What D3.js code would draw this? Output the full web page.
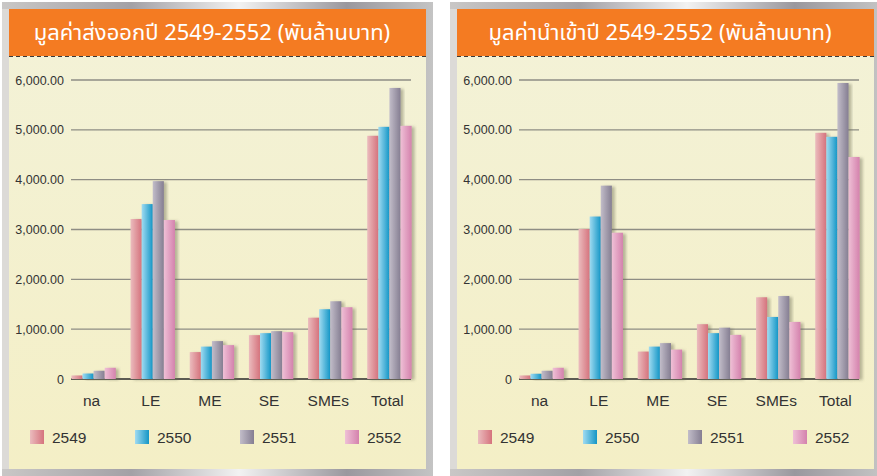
<!DOCTYPE html>
<html>
<head>
<meta charset="utf-8">
<script src="https://cdn.jsdelivr.net/npm/d3@7"></script>
<style>
  body { margin: 0; background: #fff; }
  svg { display: block; }
</style>
</head>
<body>
<svg id="chart"></svg>
<script>
const width = 877, height = 476;

// data (thousand million baht)
const categories = ["na", "LE", "ME", "SE", "SMEs", "Total"];
const years = ["2549", "2550", "2551", "2552"];

const export2549 = [70, 3210, 540, 880, 1230, 4880];
const export2550 = [110, 3510, 650, 920, 1400, 5060];
const export2551 = [165, 3970, 760, 960, 1560, 5840];
const export2552 = [225, 3190, 680, 940, 1440, 5080];

const import2549 = [70, 3010, 550, 1100, 1640, 4940];
const import2550 = [105, 3260, 650, 920, 1245, 4860];
const import2551 = [165, 3880, 720, 1030, 1665, 5940];
const import2552 = [225, 2935, 590, 885, 1145, 4455];

const yTicks = [0, 1000, 2000, 3000, 4000, 5000, 6000];

const exportTitle = "มูลค่าส่งออกปี 2549-2552 (พันล้านบาท)";
const importTitle = "มูลค่านำเข้าปี 2549-2552 (พันล้านบาท)";

const yearColors = {
    "2549": ["#ebbcbe", "#d5737d"],
    "2550": ["#a0dbf1", "#1496c6"],
    "2551": ["#c2bdc9", "#857e92"],
    "2552": ["#efc0d6", "#d482ad"]
};

const svg = d3.select("#chart")
    .attr("width", width)
    .attr("height", height);

const defs = svg.append("defs");

years.forEach(y => {
    const g = defs.append("linearGradient")
        .attr("id", "grad" + y)
        .attr("x1", "0%").attr("x2", "100%")
        .attr("y1", "0%").attr("y2", "0%");
    g.append("stop").attr("offset", "0%").attr("stop-color", yearColors[y][0]);
    g.append("stop").attr("offset", "100%").attr("stop-color", yearColors[y][1]);
});

// metallic frame
const frameGrad = defs.append("linearGradient")
    .attr("id", "frameGrad")
    .attr("x1", "0%").attr("x2", "100%");
[["0%", "#c9c7c6"], ["30%", "#a3a1a6"], ["55%", "#f2f2f2"], ["80%", "#9a989e"], ["100%", "#c4c4c4"]]
    .forEach(s => frameGrad.append("stop").attr("offset", s[0]).attr("stop-color", s[1]));

const creamGrad = defs.append("linearGradient")
    .attr("id", "creamGrad")
    .attr("x1", "0%").attr("x2", "0%").attr("y1", "0%").attr("y2", "100%");
creamGrad.append("stop").attr("offset", "0%").attr("stop-color", "#f3f2d8");
creamGrad.append("stop").attr("offset", "100%").attr("stop-color", "#f4efc6");

const shadow = defs.append("filter")
    .attr("id", "barShadow")
    .attr("x", "-20%").attr("y", "-10%")
    .attr("width", "160%").attr("height", "130%");
shadow.append("feDropShadow")
    .attr("dx", 3).attr("dy", 1)
    .attr("stdDeviation", 1.8)
    .attr("flood-color", "#6b6a55")
    .attr("flood-opacity", 0.45);

const labelFont = "'Liberation Sans', Arial, sans-serif";

function drawPanel(offsetX, title, series) {
    const g = svg.append("g").attr("transform", `translate(${offsetX},0)`);

    // frame and panel
    g.append("rect")
        .attr("x", 2).attr("y", 2)
        .attr("width", 431).attr("height", 474)
        .attr("fill", "url(#frameGrad)");
    g.append("rect")
        .attr("x", 2).attr("y", 9)
        .attr("width", 8).attr("height", 460)
        .attr("fill", "#dcdad7");
    g.append("rect")
        .attr("x", 9).attr("y", 9)
        .attr("width", 417).attr("height", 460)
        .attr("fill", "url(#creamGrad)");
    g.append("rect")
        .attr("x", 9).attr("y", 9)
        .attr("width", 417).attr("height", 47)
        .attr("fill", "#f47b22");
    g.append("line")
        .attr("x1", 9).attr("x2", 426)
        .attr("y1", 56.5).attr("y2", 56.5)
        .attr("stroke", "#3a3a3a")
        .attr("stroke-width", 1.2)
        .attr("stroke-dasharray", "4,3");

    g.append("text")
        .attr("x", 212).attr("y", 40)
        .attr("text-anchor", "middle")
        .attr("fill", "#fff")
        .style("font-family", "'Noto Sans Thai', 'Noto Sans', Tahoma, sans-serif")
        .style("font-size", "22px")
        .style("font-weight", "normal")
        .text(title);

    const x0 = d3.scaleBand()
        .domain(categories)
        .range([64, 419])
        .paddingInner(0.25)
        .paddingOuter(0.125);

    const x1 = d3.scaleBand()
        .domain(years)
        .range([0, x0.bandwidth()]);

    const y = d3.scaleLinear()
        .domain([0, 6000])
        .range([379, 80]);

    // grid lines
    g.append("g")
        .selectAll("line")
        .data(yTicks)
        .join("line")
        .attr("x1", 71).attr("x2", 411)
        .attr("y1", d => y(d)).attr("y2", d => y(d))
        .attr("stroke", d => d === 0 ? "#2a2a2a" : "#8e8d84")
        .attr("stroke-width", 1.3);

    g.append("g")
        .selectAll("text")
        .data(yTicks)
        .join("text")
        .attr("x", 64)
        .attr("y", d => y(d) + 4.5)
        .attr("text-anchor", "end")
        .attr("fill", "#333")
        .style("font-family", labelFont)
        .style("font-size", "12.5px")
        .text(d => d === 0 ? "0" : d3.format(",.2f")(d));

    // bars
    const groups = g.append("g")
        .selectAll("g")
        .data(categories)
        .join("g")
        .attr("transform", d => `translate(${x0(d)},0)`);

    groups.selectAll("rect")
        .data((c, i) => years.map((yr, j) => ({ year: yr, value: series[j][i] })))
        .join("rect")
        .attr("x", d => x1(d.year))
        .attr("y", d => y(d.value))
        .attr("width", x1.bandwidth())
        .attr("height", d => y(0) - y(d.value))
        .attr("fill", d => "url(#grad" + d.year + ")")
        .attr("filter", "url(#barShadow)");

    // category labels
    g.append("g")
        .selectAll("text")
        .data(categories)
        .join("text")
        .attr("x", d => x0(d) + x0.bandwidth() / 2 - 2)
        .attr("y", 406)
        .attr("text-anchor", "middle")
        .attr("fill", "#333")
        .style("font-family", labelFont)
        .style("font-size", "15.5px")
        .text(d => d);

    // legend
    const legend = g.append("g")
        .selectAll("g")
        .data(years)
        .join("g")
        .attr("transform", (d, i) => `translate(${30 + i * 105},430)`);

    legend.append("rect")
        .attr("width", 14).attr("height", 14)
        .attr("fill", d => "url(#grad" + d + ")");

    legend.append("text")
        .attr("x", 22).attr("y", 13)
        .attr("fill", "#333")
        .style("font-family", labelFont)
        .style("font-size", "15.5px")
        .text(d => d);
}

drawPanel(0, exportTitle, [export2549, export2550, export2551, export2552]);
drawPanel(448, importTitle, [import2549, import2550, import2551, import2552]);
</script>
</body>
</html>
